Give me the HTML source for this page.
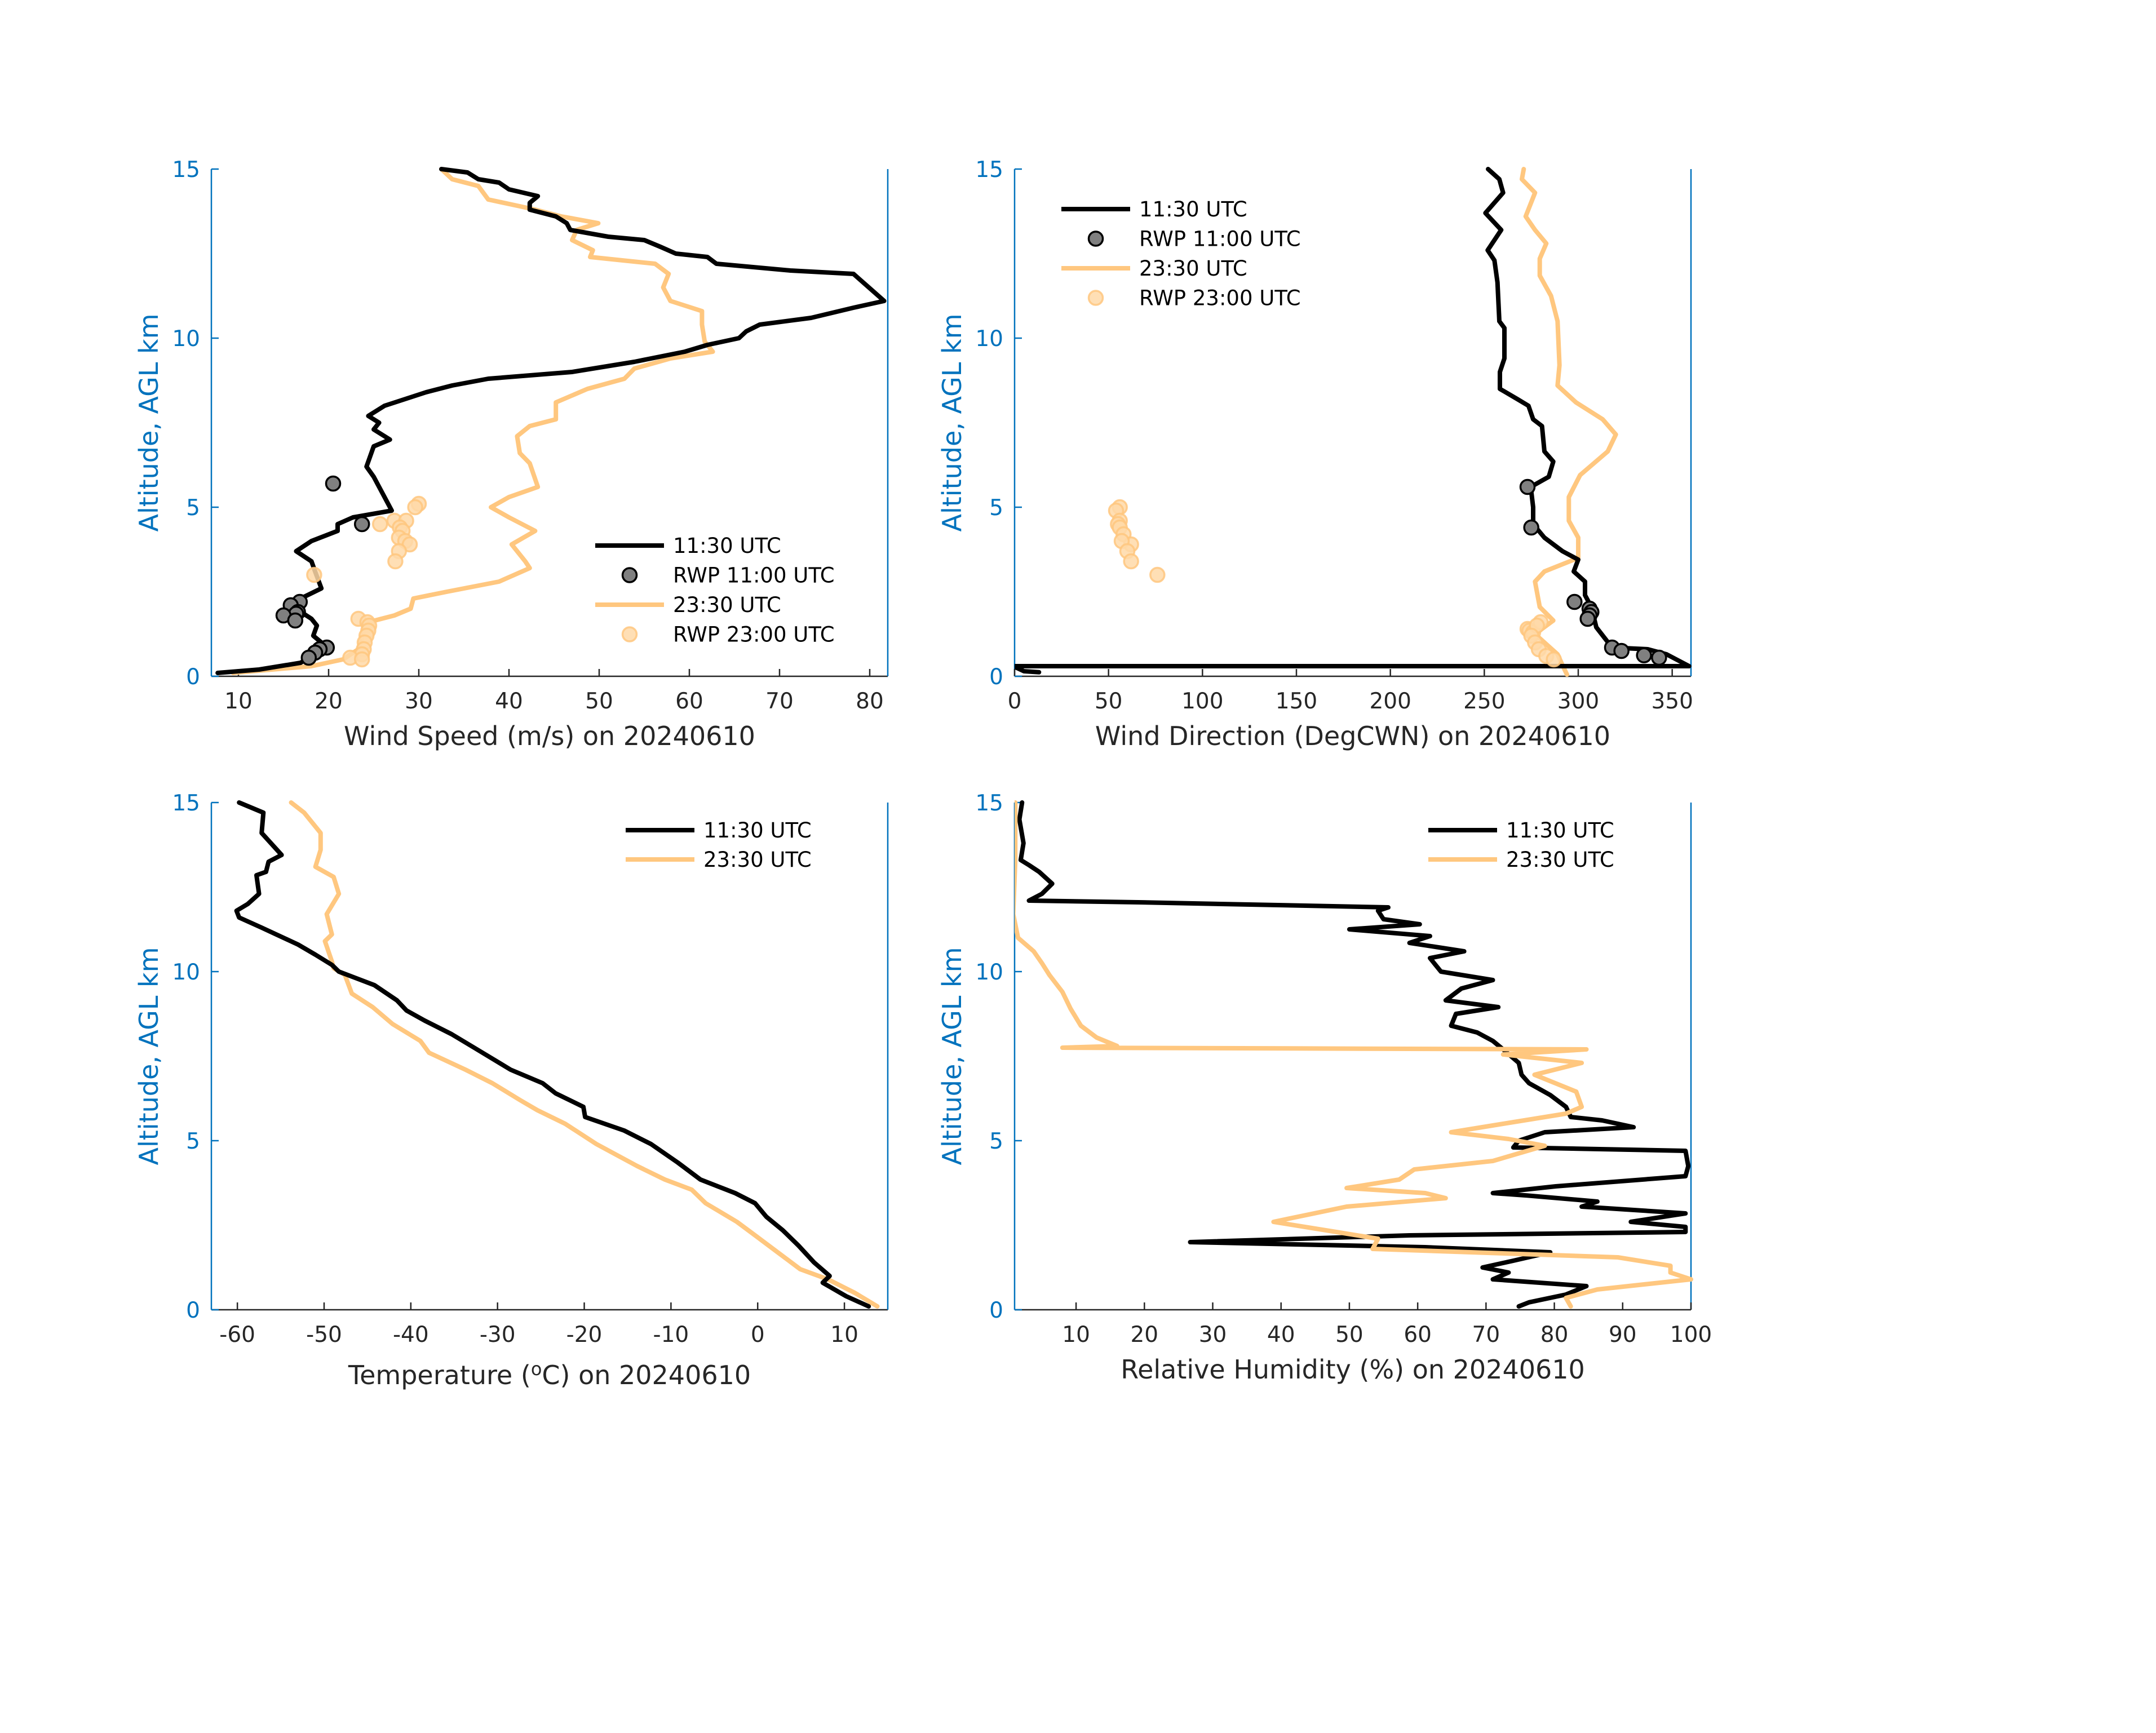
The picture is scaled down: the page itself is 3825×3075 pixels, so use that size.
<!DOCTYPE html>
<html><head><meta charset="utf-8">
<style>
html,body{margin:0;padding:0;background:#fff;}
svg{display:block;font-family:"DejaVu Sans","Liberation Sans",sans-serif;}
</style></head>
<body>
<svg id="fig" width="3825" height="3075" viewBox="0 0 3825 3075" xmlns="http://www.w3.org/2000/svg"></svg>
<script>
// ---------- Wind speed panel data ----------
const wsBlackAlt=[15,14.9,14.7,14.6,14.4,14.2,14.0,13.8,13.6,13.4,13.2,13.0,12.9,12.7,12.5,12.4,12.2,12.0,11.9,11.5,11.1,10.9,10.6,10.4,10.2,10.0,9.8,9.6,9.3,9.0,8.8,8.6,8.4,8.2,8.0,7.7,7.5,7.3,7.0,6.8,6.2,5.9,5.3,4.9,4.7,4.5,4.3,4.0,3.7,3.4,3.1,2.6,2.3,2.1,1.7,1.5,1.2,1.0,0.6,0.4,0.2,0.1];
const wsBlackVal=[32.5,35.4,36.6,38.9,40,43.2,42.3,42.3,45.2,46.4,46.8,51,55,56.8,58.5,62,63,71.2,78.2,79.9,81.6,78.2,73.5,67.8,66.3,65.5,62,59.5,53.9,47,37.7,33.7,30.8,28.5,26.2,24.4,25.6,25,26.8,25,24.2,25,26.2,27,22.7,21,21,18.1,16.4,18.1,18.5,19.2,16.9,15.8,18.1,18.7,18.3,19.2,18.1,16.9,12.3,7.7];
const wsOrangeAlt=[15,14.7,14.5,14.1,13.9,13.8,13.6,13.4,13.2,12.9,12.6,12.4,12.2,11.9,11.5,11.1,10.8,10.4,9.9,9.6,9.4,9.1,8.8,8.5,8.1,7.6,7.4,7.1,6.6,6.3,5.6,5.3,5.0,4.7,4.3,3.9,3.4,3.2,2.8,2.5,2.3,2.0,1.8,1.6,1.3,0.8,0.5,0.3,0.1];
const wsOrangeVal=[32.5,33.7,36.6,37.7,41.2,42.9,45.8,49.9,47.5,47,49.3,49,56.2,57.7,57.1,57.9,61.4,61.4,61.7,62.6,57.9,53.9,52.8,48.7,45.2,45.2,42.3,40.9,41.2,42.3,43.2,40,38,40,42.9,40.3,41.8,42.3,38.9,33.1,29.4,29.1,27.3,24.4,23.9,23.3,21.6,18.1,9.4];
const wsRwp11Val=[20.5,23.7,16.8,15.8,16.6,16.4,15.0,16.3,19.8,19.0,18.5,17.8];
const wsRwp11Alt=[5.7,4.5,2.2,2.1,1.9,1.85,1.8,1.65,0.85,0.8,0.7,0.55];
const wsRwp23Val=[30.0,29.6,25.7,27.3,28.6,27.9,28.2,27.8,28.5,29.0,27.8,27.4,18.4,23.3,24.3,24.5,24.4,24.2,24.0,23.9,23.7,22.4,23.7];
const wsRwp23Alt=[5.1,5.0,4.5,4.6,4.6,4.4,4.3,4.1,4.0,3.9,3.7,3.4,3.0,1.7,1.6,1.5,1.35,1.2,1.0,0.8,0.65,0.55,0.5];
const wsTicks=[10,20,30,40,50,60,70,80];

// ---------- Wind direction panel data ----------
const wdBlackAlt=[15,14.7,14.3,13.7,13.2,12.6,12.3,11.65,10.5,10.3,9.4,9.0,8.5,8.2,8.0,7.6,7.4,6.65,6.35,5.9,5.6,5.0,4.5,4.1,3.7,3.45,3.1,2.8,2.4,2.05,1.45,0.85,0.8,0.65,0.3,0.3,0.28,0.15,0.12];
const wdBlackVal=[252,258,260,250.6,259,251.8,255.4,257,258,260.7,260.7,258.3,258.3,267.5,273.5,276,280.7,282,286.7,284.3,274.7,276,276,282,291.6,300,297.6,303.6,303.6,307,309.6,318,337,347,359,0,0,5,13];
const wdOrangeAlt=[15,14.7,14.3,13.6,13.2,12.8,12.35,11.85,11.25,10.5,9.2,8.6,8.1,7.6,7.15,6.65,5.95,5.3,4.6,4.1,3.5,3.1,2.8,2.05,1.65,1.25,0.65,0.33,0.05];
const wdOrangeVal=[271,270,277,272,277,283,279.5,279.5,285.5,289,290,289,298.8,313,320,315.7,301,295,295,300,300,282,277,279.5,286.7,277,289,291.6,294];
const wdRwp11Val=[273,275,298,306,307,306,305,318,323,335,343];
const wdRwp11Alt=[5.6,4.4,2.2,2.0,1.9,1.8,1.7,0.85,0.75,0.62,0.55];
const wdRwp23Val=[56,54,56,55,56,58,62,57,60,62,76,273,274,276,280,278,275,277,279,283,287];
const wdRwp23Alt=[5.0,4.9,4.6,4.5,4.4,4.2,3.9,4.0,3.7,3.4,3.0,1.4,1.35,1.3,1.6,1.5,1.2,1.0,0.8,0.6,0.5];
const wdTicks=[0,50,100,150,200,250,300,350];

// ---------- Temperature panel data ----------
const tBlackAlt=[15,14.7,14.1,13.45,13.25,12.95,12.85,12.3,12.0,11.8,11.6,11.3,10.8,10.5,10.2,10.0,9.6,9.15,8.85,8.55,8.15,7.75,7.1,6.7,6.4,6.0,5.7,5.3,4.9,4.35,3.85,3.45,3.15,2.75,2.35,1.9,1.4,1.0,0.8,0.4,0.1];
const tBlackVal=[-59.8,-57,-57.2,-54.9,-56.4,-56.7,-57.8,-57.5,-58.8,-60.1,-59.8,-57.2,-53,-51,-49.1,-48.3,-44.2,-41.6,-40.5,-38.4,-35.3,-32.7,-28.5,-24.8,-23.3,-20.1,-19.9,-15.4,-12.3,-9.2,-6.6,-2.6,-0.3,1,2.9,4.7,6.5,8.3,7.5,10.2,12.8];
const tOrangeAlt=[15,14.7,14.1,13.6,13.1,12.8,12.3,11.7,11.1,10.9,10.3,10.1,9.9,9.35,8.95,8.45,7.95,7.6,7.1,6.7,6.2,5.9,5.5,4.9,4.25,3.85,3.55,3.15,2.6,2.2,1.7,1.2,0.9,0.5,0.1];
const tOrangeVal=[-53.8,-52.3,-50.4,-50.4,-51,-48.9,-48.3,-49.7,-49.1,-49.9,-49.1,-48.9,-47.6,-46.8,-44.4,-42.1,-38.9,-37.9,-33.7,-30.6,-27.4,-25.4,-22.2,-18.6,-13.9,-10.7,-7.6,-6,-2.4,-0.3,2.3,4.9,8.1,11.2,13.8];
const tTicks=[-60,-50,-40,-30,-20,-10,0,10];

// ---------- Relative humidity panel data ----------
const rhBlackAlt=[15,14.5,13.8,13.3,13.15,12.95,12.6,12.3,12.1,12.05,11.9,11.8,11.55,11.4,11.25,11.05,10.85,10.6,10.4,10.0,9.75,9.5,9.15,8.95,8.75,8.4,8.2,7.95,7.7,7.3,6.95,6.7,6.35,6.0,5.7,5.6,5.4,5.25,5.0,4.8,4.7,4.25,3.95,3.65,3.45,3.38,3.2,3.05,2.85,2.6,2.45,2.3,2.2,2.0,1.85,1.7,1.45,1.25,1.1,0.9,0.7,0.45,0.22,0.1];
const rhBlackVal=[2.1,1.7,2.3,1.9,3.1,4.6,6.5,5,3.1,19.1,55.7,54.2,55,60.3,50,61.8,58.8,66.8,61.8,63.4,71,66.4,64.1,71.8,65.6,64.9,68.7,71,72.5,74.8,75.2,76.3,79.4,81.7,82.4,87,91.6,78.6,74.8,74,99.2,99.6,99.2,80.2,71,76,86.3,84,99.2,91.2,99.2,99.2,58.8,26.7,61.1,79.4,74,69.5,73.3,71,84.7,81.7,76.3,74.8];
const rhOrangeAlt=[15,13.3,11.7,11.0,10.6,10.25,9.9,9.4,8.9,8.4,8.05,7.8,7.75,7.7,7.55,7.3,6.95,6.45,6.0,5.8,5.5,5.25,5.05,4.85,4.4,4.15,3.85,3.6,3.45,3.3,3.05,2.6,2.3,2.1,1.8,1.55,1.3,1.1,0.9,0.6,0.35,0.1];
const rhOrangeVal=[1.1,1.1,0.8,1.5,3.8,5,6.1,8,9.2,10.7,13,16,8,84.7,72.5,84,77.1,83.2,84,81.7,72.5,64.9,73.3,78.6,71,59.5,57.3,49.6,61.1,64.1,49.6,38.9,48.1,54.2,53.4,89.3,97,97,100,86.3,81.7,82.4];
const rhTicks=[10,20,30,40,50,60,70,80,90,100];
const altTicks=[0,5,10,15];

const NS="http://www.w3.org/2000/svg";
const svg=document.getElementById('fig');
const BLUE="#0072BD", GRAY="#262626", ORANGE="#FFC77F";
function mk(tag,attrs,parent){const e=document.createElementNS(NS,tag);for(const k in attrs)e.setAttribute(k,attrs[k]);(parent||svg).appendChild(e);return e;}

function panel(p){
  const g=mk('g',{});
  
  
  const sx=v=>p.x+(v-p.xmin)/(p.xmax-p.xmin)*p.w;
  const sy=a=>p.y+p.h-(a/15)*p.h;
  const xa=mk('line',{x1:p.x,y1:p.y+p.h,x2:p.x+p.w,y2:p.y+p.h,stroke:GRAY,'stroke-width':2.5},g);
  
  
  const ya=mk('line',{x1:p.x,y1:p.y,x2:p.x,y2:p.y+p.h,stroke:BLUE,'stroke-width':2.5},g);
  
  
  const ra=mk('line',{x1:p.x+p.w,y1:p.y,x2:p.x+p.w,y2:p.y+p.h,stroke:BLUE,'stroke-width':2.5},g);
  
  
  p.ticks.forEach(t=>{
    const X=sx(t);
    mk('line',{x1:X,y1:p.y+p.h,x2:X,y2:p.y+p.h-13,stroke:GRAY,'stroke-width':2.5},g);
    const tl=mk('text',{x:X,y:p.y+p.h+57,'font-size':39,fill:GRAY,'text-anchor':'middle'},g);
    tl.textContent=String(t);
    
    
  });
  altTicks.forEach(a=>{
    const Y=sy(a);
    mk('line',{x1:p.x,y1:Y,x2:p.x+13,y2:Y,stroke:BLUE,'stroke-width':2.5},g);
    const tl=mk('text',{x:p.x-20,y:Y+14,'font-size':39,fill:BLUE,'text-anchor':'end'},g);
    tl.textContent=a;
    
    
  });
  const yl=mk('text',{x:0,y:0,'font-size':46,fill:BLUE,'text-anchor':'middle',transform:`translate(${p.x-95},${p.y+p.h/2}) rotate(-90)`},g);
  yl.textContent='Altitude, AGL km';
  
  
  const xl=mk('text',{x:p.x+p.w/2,y:p.xlabY,'font-size':46,fill:GRAY,'text-anchor':'middle'},g);
  if(p.temp){xl.innerHTML='Temperature (<tspan dy="-16" font-size="32">o</tspan><tspan dy="16">C) on 20240610</tspan>';}
  else xl.textContent=p.xlabel;
  
  
  const clip='clip-'+p.name;
  const cp=mk('clipPath',{id:clip},g);
  mk('rect',{x:p.x,y:p.y-5,width:p.w+5,height:p.h+10},cp);
  p.series.forEach(s=>{
    const d=s.val.map((v,i)=>(i?'L':'M')+sx(v).toFixed(1)+','+sy(s.alt[i]).toFixed(1)).join(' ');
    const path=mk('path',{d:d,fill:'none',stroke:s.color,'stroke-width':8,'stroke-linejoin':'round','stroke-linecap':'round','clip-path':`url(#${clip})`},g);
    
    
  });
  (p.markers||[]).forEach(m=>{
    m.val.forEach((v,i)=>{
      const c=mk('circle',{cx:sx(v),cy:sy(m.alt[i]),r:12.5,fill:m.fill,'fill-opacity':m.op,stroke:m.stroke,'stroke-width':3.5,'stroke-opacity':m.op},g);
      
      
    });
  });
  const lg=mk('g',{},g);
  
  
  p.legend.items.forEach((it,i)=>{
    const Y=p.legend.y+i*p.legend.dy;
    if(it.type==='line'){
      mk('line',{x1:p.legend.x,y1:Y,x2:p.legend.x+122,y2:Y,stroke:it.color,'stroke-width':8},lg);
    }else{
      mk('circle',{cx:p.legend.x+61,cy:Y,r:12.5,fill:it.fill,'fill-opacity':it.op,stroke:it.stroke,'stroke-width':3.5,'stroke-opacity':it.op},lg);
    }
    const t=mk('text',{x:p.legend.x+138,y:Y+13,'font-size':37,fill:'#000'},lg);
    t.textContent=it.label;
    
    
  });
}

const leg4=(x,y)=>({x:x,y:y,dy:52.5,items:[
  {type:'line',color:'#000',label:'11:30 UTC'},
  {type:'mk',fill:'#808080',stroke:'#000',op:1,label:'RWP 11:00 UTC'},
  {type:'line',color:ORANGE,label:'23:30 UTC'},
  {type:'mk',fill:'#FFD9A8',stroke:'#FFC77F',op:0.85,label:'RWP 23:00 UTC'}]});
const leg2=(x,y)=>({x:x,y:y,dy:52,items:[
  {type:'line',color:'#000',label:'11:30 UTC'},
  {type:'line',color:ORANGE,label:'23:30 UTC'}]});

panel({name:'wind-speed-panel',x:375,y:300,w:1200,h:900,xmin:7,xmax:82,ticks:wsTicks,xlabel:'Wind Speed (m/s) on 20240610',xlabY:1322,
  series:[{name:'speed-2330-line',val:wsOrangeVal,alt:wsOrangeAlt,color:ORANGE},{name:'speed-1130-line',val:wsBlackVal,alt:wsBlackAlt,color:'#000'}],
  markers:[{name:'rwp-1100-point',val:wsRwp11Val,alt:wsRwp11Alt,fill:'#808080',stroke:'#000',op:1},{name:'rwp-2300-point',val:wsRwp23Val,alt:wsRwp23Alt,fill:'#FFD9A8',stroke:'#FFC77F',op:0.85}],
  legend:leg4(1056,968)});
panel({name:'wind-direction-panel',x:1800,y:300,w:1200,h:900,xmin:0,xmax:360,ticks:wdTicks,xlabel:'Wind Direction (DegCWN) on 20240610',xlabY:1322,
  series:[{name:'direction-2330-line',val:wdOrangeVal,alt:wdOrangeAlt,color:ORANGE},{name:'direction-1130-line',val:wdBlackVal,alt:wdBlackAlt,color:'#000'}],
  markers:[{name:'rwp-1100-point',val:wdRwp11Val,alt:wdRwp11Alt,fill:'#808080',stroke:'#000',op:1},{name:'rwp-2300-point',val:wdRwp23Val,alt:wdRwp23Alt,fill:'#FFD9A8',stroke:'#FFC77F',op:0.85}],
  legend:leg4(1883,371)});
panel({name:'temperature-panel',x:375,y:1424,w:1200,h:900,xmin:-63,xmax:15,ticks:tTicks,temp:true,xlabY:2456,
  series:[{name:'temperature-2330-line',val:tOrangeVal,alt:tOrangeAlt,color:ORANGE},{name:'temperature-1130-line',val:tBlackVal,alt:tBlackAlt,color:'#000'}],
  legend:leg2(1110,1473)});
panel({name:'humidity-panel',x:1800,y:1424,w:1200,h:900,xmin:1,xmax:100,ticks:rhTicks,xlabel:'Relative Humidity (%) on 20240610',xlabY:2446,
  series:[{name:'humidity-1130-line',val:rhBlackVal,alt:rhBlackAlt,color:'#000'},{name:'humidity-2330-line',val:rhOrangeVal,alt:rhOrangeAlt,color:ORANGE}],
  legend:leg2(2534,1473)});
</script>
</body></html>
